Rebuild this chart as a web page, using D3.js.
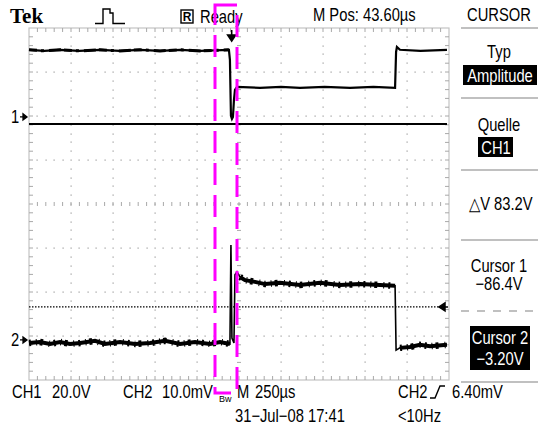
<!DOCTYPE html>
<html><head><meta charset="utf-8">
<script src="https://cdn.jsdelivr.net/npm/d3@7"></script>
<style>
html,body{margin:0;padding:0;background:#fff;}
svg{display:block;}
text{font-family:"Liberation Sans",Arial,sans-serif;fill:#000;}
</style></head><body>
<svg id="c" width="541" height="429"></svg>
<script>
// ---- data (time in µs from left edge of record, 250 µs/div) ----
const ch1Time  = [0, 90, 185, 300, 423, 540, 661, 780, 899, 1020, 1190, 1196, 1202, 1208, 1214, 1220, 1226, 1238, 1375, 1500, 1613, 1760, 1911, 2050, 2179, 2185, 2190, 2208, 2330, 2488];
const ch1Volts = [30.5, 30.0, 30.5, 30.0, 30.5, 30.0, 30.5, 30.0, 30.5, 30.0, 30.5, 25.9, 0.5, -0.9, 0.0, 7.7, 12.3, 13.6, 13.2, 13.6, 13.2, 13.6, 13.2, 13.6, 13.2, 29.5, 31.8, 30.5, 30.0, 30.5];
const ch2Time  = [0, 65, 125, 185, 244, 304, 393, 452, 542, 631, 720, 810, 899, 988, 1077, 1137, 1196, 1202, 1208, 1220, 1226, 1238, 1256, 1286, 1345, 1405, 1494, 1613, 1732, 1851, 1970, 2089, 2179, 2185, 2208, 2268, 2327, 2387, 2488];
const ch2MilliVolts = [-0.7, -0.45, -0.9, -0.45, -0.9, -0.7, -0.2, -0.9, -0.45, -0.9, -0.7, -0.2, -0.9, -0.45, -0.9, -0.45, -0.9, 21.6, 0.45, -0.7, 14.8, 15.5, 14.3, 13.6, 13.2, 12.7, 13.0, 12.5, 13.0, 12.5, 12.7, 12.5, 12.3, -2.3, -1.8, -1.6, -1.1, -1.4, -1.1];
const cursorVolts = [-86.4, -3.20];
const ch1VoltsPerDiv = 20.0;
const ch2MilliVoltsPerDiv = 10.0;
const ch1PositionDiv = 1.98;
const ch2PositionDiv = -3.09;
const timePerDiv = 250;
const triggerTime = 1206.4;   // 43.60 µs left of centre
const headerTexts = ["Tek", "Ready", "M Pos: 43.60\u00b5s", "CURSOR"];
const panelTexts = ["Typ", "Amplitude", "Quelle", "CH1", "\u25b3V 83.2V", "Cursor 1", "\u221286.4V", "Cursor 2", "\u22123.20V"];
const footerTexts = ["CH1", "20.0V", "CH2", "10.0mV", "M", "250\u00b5s", "31\u2212Jul\u221208 17:41", "CH2", "6.40mV", "<10Hz"];

const svg = d3.select("#c");
const L = 29, R = 449, T = 28, B = 380;
const x = d3.scaleLinear().domain([0, 10 * timePerDiv]).range([L, R]);
const xd = d3.scaleLinear().domain([0, 10]).range([L, R]);
const y = d3.scaleLinear().domain([-4, 4]).range([B, T]);
const y1 = v => y(ch1PositionDiv + v / ch1VoltsPerDiv);
const y2 = v => y(ch2PositionDiv + v / ch2MilliVoltsPerDiv);

// narrow text helper (Arial-Narrow look)
function txt(px, py, s, opt = {}) {
  const gg = svg.append("g").attr("transform", `translate(${px},${py}) scale(${opt.sx || 0.82},1)`);
  const t = gg.append("text").attr("x", 0).attr("y", 0).attr("font-size", opt.size || 18)
    .attr("text-anchor", opt.anchor || "start").text(s);
  if (opt.fill) t.style("fill", opt.fill);
  return t;
}

// ---- graticule ----
const g = svg.append("g");
const gridCol = "#9a9a9a";
const dots = [];
for (let j = -3; j <= 3; j++) for (let i = 1; i < 50; i++) if (j !== 0 && i % 5 !== 0) dots.push([xd(i / 5), y(j)]);
for (let k = 1; k <= 9; k++) for (let m = -19; m <= 19; m++) if (k !== 5 && m % 5 !== 0) dots.push([xd(k), y(m / 5)]);
for (let j = -3; j <= 3; j++) for (let k = 1; k <= 9; k++) dots.push([xd(k), y(j)]);
g.selectAll("rect.dot").data(dots).join("rect").attr("class", "dot")
  .attr("x", d => Math.round(d[0]) - 0.5).attr("y", d => Math.round(d[1]) - 0.5)
  .attr("width", 1.2).attr("height", 1.2).attr("fill", gridCol);
g.append("rect").attr("x", L).attr("y", T).attr("width", R - L).attr("height", B - T)
  .attr("fill", "none").attr("stroke", "#c4c4c4").attr("stroke-width", 1.2);
const tk = [];
for (let i = 1; i < 50; i++) {
  const xx = xd(i / 5);
  tk.push([xx, T, xx, T + 4], [xx, B, xx, B - 4], [xx, y(0) - 2, xx, y(0) + 2]);
}
for (let m = -19; m <= 19; m++) {
  const yy = y(m / 5);
  tk.push([L, yy, L + 4, yy], [R, yy, R - 4, yy], [xd(5) - 2, yy, xd(5) + 2, yy]);
}
g.selectAll("line.tk").data(tk).join("line").attr("class", "tk")
  .attr("x1", d => d[0]).attr("y1", d => d[1]).attr("x2", d => d[2]).attr("y2", d => d[3])
  .attr("stroke", "#a8a8a8").attr("stroke-width", 1);

// ---- cursors ----
svg.append("line").attr("x1", L).attr("x2", R - 2).attr("y1", y1(cursorVolts[1])).attr("y2", y1(cursorVolts[1]))
  .attr("stroke", "#000").attr("stroke-width", 2);
svg.append("line").attr("x1", L).attr("x2", R - 9).attr("y1", y1(cursorVolts[0])).attr("y2", y1(cursorVolts[0]))
  .attr("stroke", "#000").attr("stroke-width", 1.2).attr("stroke-dasharray", "1.5,1.5");
const cy = y1(cursorVolts[0]);
svg.append("path").attr("d", `M${R - 10},${cy} L${R - 4},${cy - 4} L${R - 4},${cy + 4} Z M${R - 5},${cy} H${R - 1}`)
  .attr("fill", "#000").attr("stroke", "#000").attr("stroke-width", 1.5);

// ---- traces ----
const line = d3.line().x(d => x(d[0])).y(d => d[1]);
const ch1 = ch1Time.map((t, i) => [t, y1(ch1Volts[i])]);
const ch2 = ch2Time.map((t, i) => [t, y2(ch2MilliVolts[i])]);
svg.append("path").attr("d", line(ch1)).attr("fill", "none").attr("stroke", "#000")
  .attr("stroke-width", 2.2).attr("stroke-linejoin", "miter");
svg.append("path").attr("d", line(ch1.slice(0, 11))).attr("fill", "none").attr("stroke", "#000")
  .attr("stroke-width", 3).attr("stroke-dasharray", "8,4,3,5,12,3");
svg.append("path").attr("d", line(ch2)).attr("fill", "none").attr("stroke", "#000").attr("stroke-width", 1.6);
const segs = [ch2.filter(d => d[0] < 1200), ch2.filter(d => d[0] >= 1250 && d[0] < 2180), ch2.filter(d => d[0] >= 2190)];
segs.forEach(s => {
  svg.append("path").attr("d", line(s)).attr("fill", "none").attr("stroke", "#000").attr("stroke-width", 4);
  svg.append("path").attr("d", line(s)).attr("fill", "none").attr("stroke", "#000")
    .attr("stroke-width", 6.5).attr("stroke-dasharray", "2,5,1,3,3,6,1,4");
});

// channel markers
function marker(label, yy) {
  txt(11, yy + 6, label, { size: 18 });
  svg.append("path").attr("d", `M20,${yy} H24 M23,${yy - 3} L27,${yy} L23,${yy + 3} Z`)
    .attr("stroke", "#000").attr("stroke-width", 1.3).attr("fill", "#000");
}
marker("1", y1(0));
marker("2", y2(0));

// trigger position arrow
const tx = x(triggerTime);
svg.append("path").attr("d", `M${tx},${T + 2} V${T + 8} M${tx - 4},${T + 7} L${tx + 4},${T + 7} L${tx},${T + 13} Z`)
  .attr("stroke", "#000").attr("stroke-width", 1.6).attr("fill", "#000");

// ---- header ----
svg.append("text").attr("x", 10).attr("y", 23).attr("font-size", 21).attr("font-weight", "bold")
  .style("font-family", "'Liberation Serif','DejaVu Serif',serif").text(headerTexts[0]);
svg.append("path").attr("d", "M95,23.5 H103 V9 H110 V13 H113 V23.5 H125").attr("fill", "none")
  .attr("stroke", "#000").attr("stroke-width", 1.4);
svg.append("rect").attr("x", 181).attr("y", 10).attr("width", 12).attr("height", 13)
  .attr("fill", "none").attr("stroke", "#000").attr("stroke-width", 1.4);
svg.append("text").attr("x", 187).attr("y", 21).attr("text-anchor", "middle").attr("font-size", 12)
  .attr("font-weight", "bold").text("R");
txt(200, 23, headerTexts[1]);
txt(313, 21, headerTexts[2]);
txt(499, 21, headerTexts[3], { anchor: "middle" });

// ---- right panel ----
const sepCol = "#c0c0c0";
[28, 98, 170, 240, 382].forEach(yy => svg.append("line").attr("x1", 461).attr("x2", 538)
  .attr("y1", yy).attr("y2", yy).attr("stroke", sepCol).attr("stroke-width", 2));
svg.append("line").attr("x1", 461).attr("x2", 538).attr("y1", 311).attr("y2", 311)
  .attr("stroke", sepCol).attr("stroke-width", 2).attr("stroke-dasharray", "8,8");
svg.append("rect").attr("x", 463).attr("y", 65).attr("width", 74).attr("height", 20).attr("fill", "#000");
svg.append("rect").attr("x", 478).attr("y", 137).attr("width", 35).attr("height", 20).attr("fill", "#000");
svg.append("rect").attr("x", 470).attr("y", 326).attr("width", 60).attr("height", 44).attr("fill", "#000");
const pt = [[499, 58, "#000"], [500, 82, "#fff"], [499, 131, "#000"], [496, 154, "#fff"], [501, 210, "#000"],
            [499, 272, "#000"], [499, 290, "#000"], [500, 344, "#fff"], [500, 365, "#fff"]];
panelTexts.forEach((s, i) => txt(pt[i][0], pt[i][1], s, { anchor: "middle", fill: pt[i][2] }));

// ---- footer ----
const ft = [[12, 398], [52, 398], [123, 398], [162, 398], [237, 398], [255, 398], [235, 422], [398, 398], [452, 398], [398, 422]];
footerTexts.forEach((s, i) => txt(ft[i][0], ft[i][1], s));
svg.append("text").attr("x", 219).attr("y", 402).attr("font-size", 9).text("Bw");
svg.append("path").attr("d", "M430,398 H435 L440,386 H445").attr("fill", "none").attr("stroke", "#000").attr("stroke-width", 1.4);

// ---- magenta zoom box ----
svg.append("rect").attr("x", 215).attr("y", 5).attr("width", 22).attr("height", 388)
  .attr("fill", "none").attr("stroke", "#ff00ff").attr("stroke-width", 3).attr("stroke-dasharray", "22,10");
</script>
</body></html>
